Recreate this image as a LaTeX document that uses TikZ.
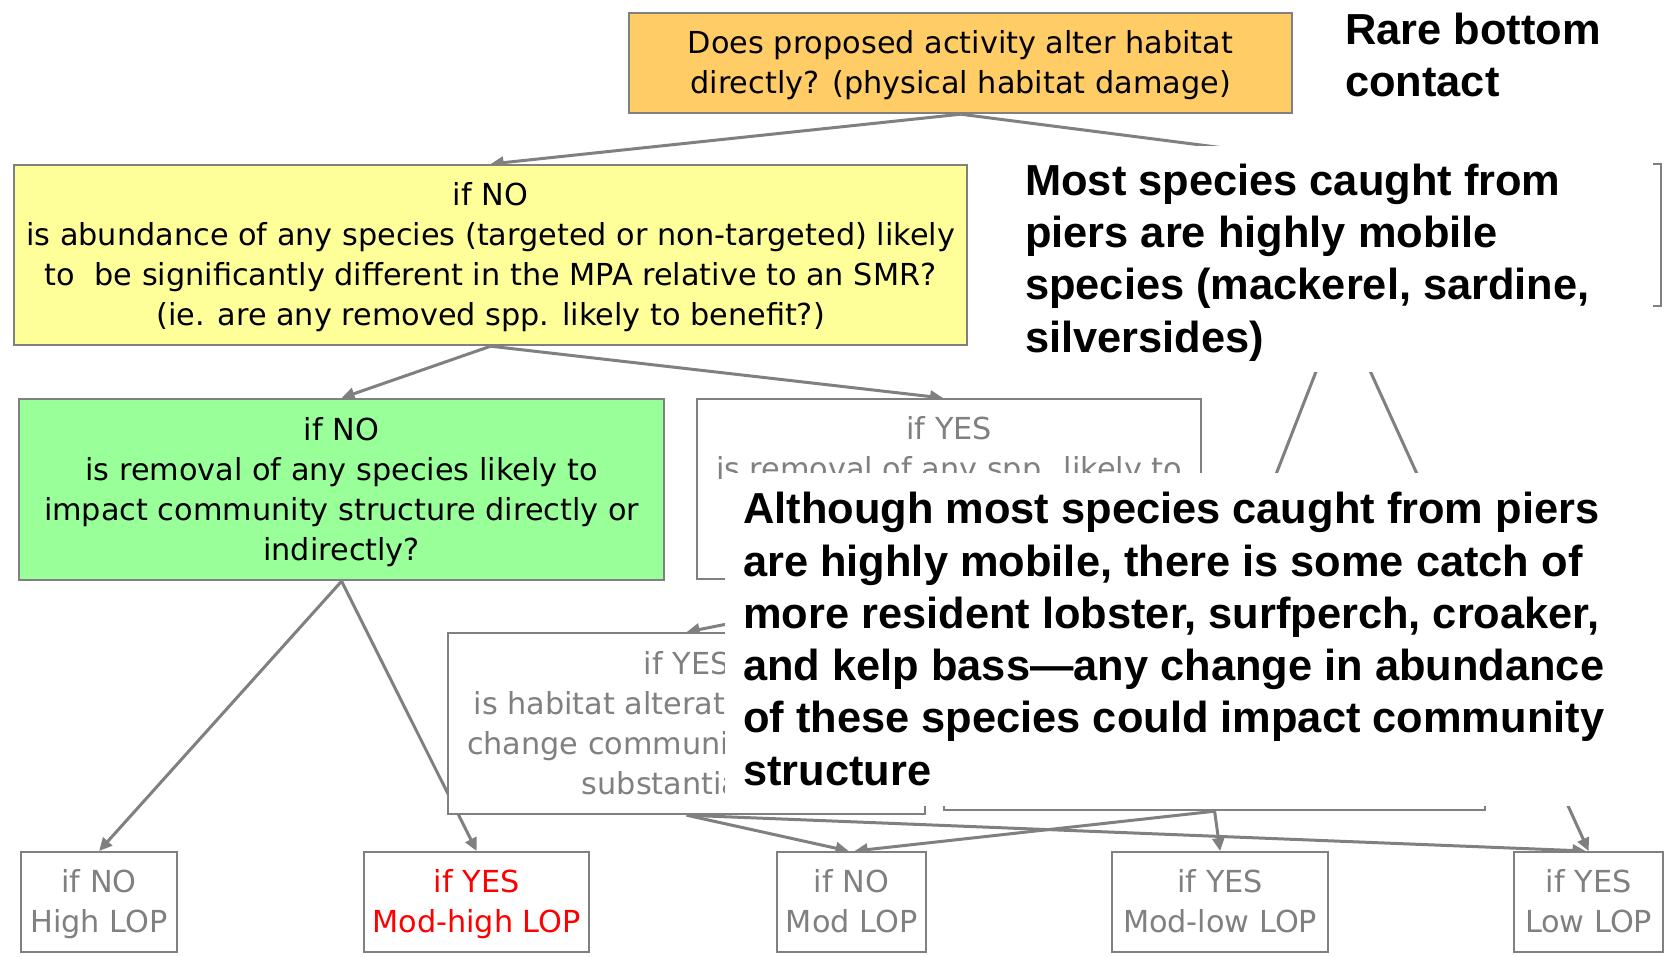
\documentclass[tikz,border=0pt]{standalone}
\usepackage{fontspec}
\setmainfont{DejaVu Sans}
\newfontfamily\arialfont{Liberation Sans}
\usetikzlibrary{arrows.meta}
\pgfdeclarelayer{back}
\pgfdeclarelayer{lines}
\pgfsetlayers{back,lines,main}
\definecolor{lgray}{RGB}{128,128,128}
\definecolor{orangefill}{RGB}{255,204,102}
\definecolor{yellowfill}{RGB}{255,255,153}
\definecolor{greenfill}{RGB}{153,255,153}
\newcommand\bstrut{\rule[-8pt]{0pt}{37pt}}
\newcommand\tstrut{\rule{0pt}{32pt}}
\tikzset{
  box/.style={draw=lgray, line width=2.2pt, inner sep=0pt, anchor=north west, align=center, font={\fontsize{30.3}{40}\selectfont}},
  conn/.style={draw=lgray, line width=3pt, -{Triangle[length=13pt,width=12pt]}},
  bigtxt/.style={inner sep=0pt, anchor=north west, align=left, font={\arialfont\bfseries\fontsize{43.4}{52.3}\selectfont}},
}
\begin{document}
\begin{tikzpicture}[x=1pt,y=-1pt]
\begin{pgfonlayer}{back}
\fill[white] (0,0) rectangle (1667,956);
\end{pgfonlayer}
\useasboundingbox (0,0) rectangle (1667,956);

% upper boxes
\node[box, fill=orangefill, minimum width=663pt, minimum height=100pt] (orange) at (628,12)
  {\bstrut Does proposed activity alter habitat\\directly? (physical habitat damage)\bstrut};
\node[box, fill=yellowfill, minimum width=953pt, minimum height=180pt] (yellow) at (13,164)
  {\bstrut if NO\\is abundance of any species (targeted or non-targeted) likely\\to\ \ be significantly different in the MPA relative to an SMR?\\(ie. are any removed spp. likely to benefit?)\bstrut};
\node[box, fill=greenfill, minimum width=645pt, minimum height=181pt] (green) at (18,398)
  {\bstrut if NO\\is removal of any species likely to\\impact community structure directly or\\indirectly?\bstrut};
\node[box, fill=white, text=lgray, minimum width=504pt, minimum height=180pt] (upyes) at (696,398)
  {\bstrut if YES\\is removal of any spp. likely to\\\phantom{impact community structure}\\\phantom{indirectly?}\bstrut};
\node[box, fill=white, minimum width=640pt, minimum height=142pt] (hiddenR) at (1020,163) {};
\node[box, fill=white, text=lgray, minimum width=477pt, minimum height=181pt] (habitat) at (447,632)
  {\bstrut if YES\\is habitat alteration likely to\\change community structure\\substantially?\bstrut};
\node[box, fill=white, minimum width=541pt, minimum height=177pt] (hiddenL) at (943,632) {};

% bottom boxes
\node[box, fill=white, text=lgray, minimum width=156pt, minimum height=100pt] (high) at (20,851)
  {\bstrut if NO\\High LOP\bstrut};
\node[box, fill=white, text=red, minimum width=225pt, minimum height=100pt] (modhigh) at (363,851)
  {\bstrut if YES\\Mod-high LOP\bstrut};
\node[box, fill=white, text=lgray, minimum width=149pt, minimum height=100pt] (mod) at (776,851)
  {\bstrut if NO\\Mod LOP\bstrut};
\node[box, fill=white, text=lgray, minimum width=216pt, minimum height=100pt] (modlow) at (1111,851)
  {\bstrut if YES\\Mod-low LOP\bstrut};
\node[box, fill=white, text=lgray, minimum width=149pt, minimum height=100pt] (low) at (1513,851)
  {\bstrut if YES\\Low LOP\bstrut};

% connectors
\begin{pgfonlayer}{lines}
\draw[conn] (orange.south) -- (yellow.north);
\draw[conn] (orange.south) -- (hiddenR.north);
\draw[conn] (yellow.south) -- (green.north);
\draw[conn] (yellow.south) -- ([xshift=-6pt]upyes.north);
\draw[conn] (green.south) -- (high.north);
\draw[conn] (green.south) -- (modhigh.north);
\draw[conn] (upyes.south) -- (habitat.north);
\draw[conn] (hiddenR.south) -- (hiddenL.north);
\draw[conn] (hiddenR.south) -- (low.north);
\draw[conn] (habitat.south) -- ([xshift=-3pt]mod.north);
\draw[conn] (habitat.south) -- ([xshift=-3pt]low.north);
\draw[conn] (hiddenL.south) -- ([xshift=3pt]mod.north);
\draw[conn] (hiddenL.south) -- (modlow.north);
\end{pgfonlayer}

% overlay texts
\fill[white] (1000,146) rectangle (1653,372);
\node[bigtxt] (mostsp) at (1025,163)
  {\tstrut Most species caught from\\piers are highly mobile\\species (mackerel, sardine,\\silversides)};
\fill[white] (725,473) rectangle (1620,806);
\node[bigtxt] (although) at (743,491.5)
  {\tstrut Although most species caught from piers\\are highly mobile, there is some catch of\\more resident lobster, surfperch, croaker,\\and kelp bass—any change in abundance\\of these species could impact community\\structure};
\node[bigtxt] (rare) at (1345,12) {\tstrut Rare bottom\\contact};
\end{tikzpicture}
\end{document}
